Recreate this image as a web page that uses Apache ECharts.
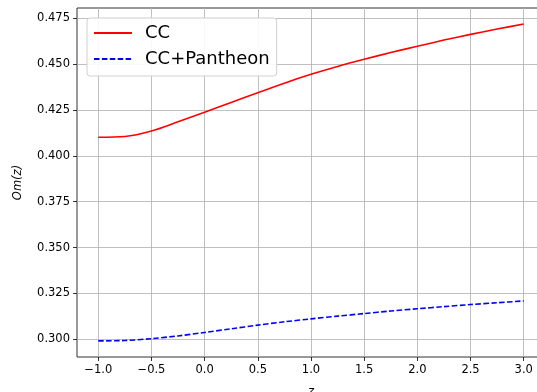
<!DOCTYPE html>
<html>
<head>
<meta charset="utf-8">
<script src="https://cdn.jsdelivr.net/npm/echarts@6/dist/echarts.min.js"></script>
<style>
  html, body { margin: 0; padding: 0; background: #fff; }
  #chart { width: 537px; height: 392px; }
</style>
</head>
<body>
<div id="chart"></div>
<script>
// Redshift samples
const zValues = [-1, -0.75, -0.5, -0.25, 0, 0.25, 0.5, 0.75, 1, 1.25, 1.5, 1.75, 2, 2.25, 2.5, 2.75, 3];
// Om(z) for each dataset combination
const omCC = [0.4102, 0.4106, 0.4136, 0.4186, 0.4238, 0.4292, 0.4345, 0.4397, 0.4445, 0.4488, 0.4527, 0.4564, 0.4598, 0.4632, 0.4663, 0.4692, 0.4720];
const omCCPantheon = [0.2991, 0.2993, 0.3003, 0.3018, 0.3037, 0.3057, 0.3077, 0.3095, 0.3111, 0.3126, 0.3140, 0.3154, 0.3166, 0.3178, 0.3189, 0.3199, 0.3209];
// Tick positions
const xTicks = [-1.0, -0.5, 0.0, 0.5, 1.0, 1.5, 2.0, 2.5, 3.0];
const yTicks = [0.300, 0.325, 0.350, 0.375, 0.400, 0.425, 0.450, 0.475];

const FONT = 'DejaVu Sans';
const minus = s => s.replace('-', '\u2212');

const chart = echarts.init(document.getElementById('chart'), null, { renderer: 'canvas' });
chart.setOption({
  animation: false,
  textStyle: { fontFamily: FONT },
  grid: {
    left: 77, right: -8, top: 8, bottom: 35,
    outerBoundsMode: 'none',
    containLabel: false,
    show: true, borderColor: '#333', borderWidth: 1, backgroundColor: 'transparent'
  },
  legend: {
    orient: 'vertical',
    left: 87, top: 18,
    padding: [5, 7, 7, 6],
    itemGap: 6,
    itemWidth: 38, itemHeight: 14,
    itemStyle: { opacity: 0 },
    backgroundColor: 'rgba(255,255,255,0.9)',
    borderColor: '#d0d0d0', borderWidth: 1, borderRadius: 3,
    textStyle: { fontFamily: FONT, fontSize: 18, color: '#000', lineHeight: 20, padding: [0, 0, 0, 8] },
    data: ['CC', 'CC+Pantheon']
  },
  xAxis: {
    type: 'value',
    min: -1.2, max: 3.2,
    name: 'z',
    nameLocation: 'middle',
    nameGap: 29,
    nameTextStyle: { fontFamily: FONT, fontStyle: 'italic', fontSize: 11.5, color: '#000' },
    axisLine: { show: false, onZero: false },
    axisTick: { show: true, length: 4, lineStyle: { color: '#000', width: 0.8 }, customValues: xTicks },
    axisLabel: {
      customValues: xTicks,
      fontSize: 11.5, color: '#000', margin: 7, fontFamily: FONT,
      formatter: v => minus(v.toFixed(1))
    },
    splitLine: { show: true, lineStyle: { color: '#b0b0b0', width: 0.8 } }
  },
  yAxis: {
    type: 'value',
    min: 0.2903, max: 0.4807,
    name: 'Om(z)',
    nameLocation: 'middle',
    nameGap: 53,
    nameRotate: 90,
    nameTextStyle: { fontFamily: FONT, fontStyle: 'italic', fontSize: 11.5, color: '#000' },
    axisLine: { show: false, onZero: false },
    axisTick: { show: true, length: 4, lineStyle: { color: '#000', width: 0.8 }, customValues: yTicks },
    axisLabel: {
      customValues: yTicks,
      fontSize: 11.5, color: '#000', margin: 7, fontFamily: FONT,
      formatter: v => v.toFixed(3)
    },
    splitLine: { show: true, lineStyle: { color: '#b0b0b0', width: 0.8 } }
  },
  series: [
    {
      name: 'CC',
      type: 'line',
      data: zValues.map((z, i) => [z, omCC[i]]),
      showSymbol: false, symbol: 'none',
      smooth: 0.3,
      lineStyle: { color: '#ff0000', width: 1.6 },
      itemStyle: { color: '#ff0000' }
    },
    {
      name: 'CC+Pantheon',
      type: 'line',
      data: zValues.map((z, i) => [z, omCCPantheon[i]]),
      showSymbol: false, symbol: 'none',
      smooth: 0.3,
      lineStyle: { color: '#0000ff', width: 1.6, type: [5.5, 2.4] },
      itemStyle: { color: '#0000ff' }
    }
  ]
});
</script>
</body>
</html>
